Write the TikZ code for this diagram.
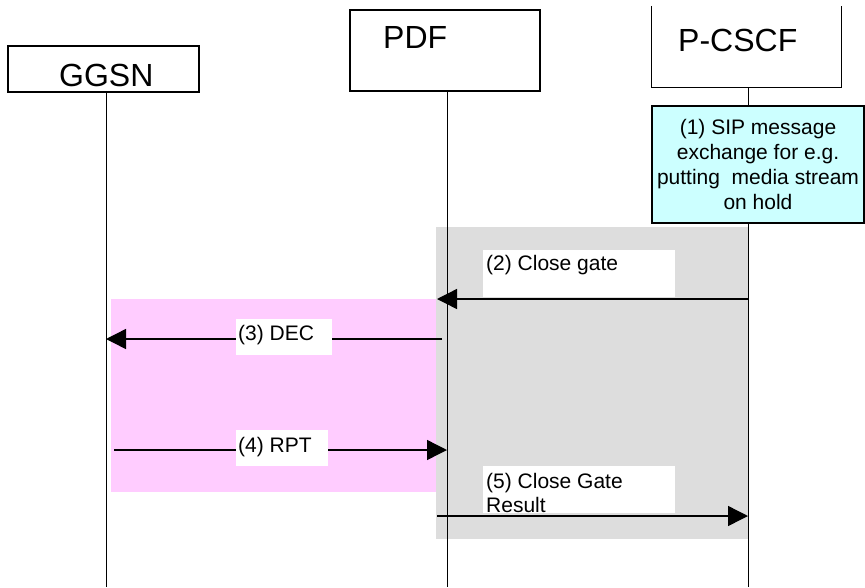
\documentclass[tikz,border=0pt]{standalone}
\usepackage{fontspec}
\setmainfont{Liberation Sans}
\usepackage{xcolor}
\usetikzlibrary{arrows.meta}
\definecolor{note-cyan}{HTML}{CCFFFF}
\definecolor{zone-grey}{HTML}{DDDDDD}
\definecolor{zone-pink}{HTML}{FFCCFF}
\tikzset{
    entity-box/.style = {draw, line width=1.3pt, rectangle, inner sep=0pt},
    entity-title/.style = {inner sep=0pt, anchor=base west, font=\fontsize{32}{38}\selectfont},
    life-line/.style = {line width=0.9pt},
    note-box/.style = {draw, fill=note-cyan, line width=1.3pt, rectangle, inner sep=0pt, align=center, font=\fontsize{21}{25}\selectfont},
    msg-arrow/.style = {line width=1.4pt, -{Triangle[length=20pt, width=20pt]}},
    msg-box/.style = {fill=white, rectangle, inner sep=0pt},
    msg-text/.style = {inner sep=0pt, align=left, font=\fontsize{21}{24}\selectfont},
}

\begin{document}
\begin{tikzpicture}[x=1pt, y=-1pt]
\useasboundingbox (0,0) rectangle (865,587);
\fill[zone-pink] (111,299) rectangle (436,492);
\fill[zone-grey] (436,227) rectangle (748,539);

\node[entity-box, minimum width=191pt, minimum height=46pt] (ggsn) at (103.5,69) {};
\node[entity-box, minimum width=190pt, minimum height=81pt] (pdf) at (445,50.5) {};
\node[rectangle, inner sep=0pt, minimum width=189pt, minimum height=81pt] (pcscf) at (746.5,46.5) {};
\draw[line width=1.3pt] (pcscf.north west) -- (pcscf.south west) -- (pcscf.south east) -- (pcscf.north east);
\node[entity-title] (ggsn-name) at (59,86) {GGSN};
\node[entity-title] (pdf-name) at (383,48) {PDF};
\node[entity-title] (pcscf-name) at (678,51.7) {P-CSCF};

\node[note-box, minimum width=212pt, minimum height=117pt] (sip) at (758,164.5) {(1) SIP message\\ exchange for e.g.\\ putting\ \ media stream\\ on hold};

\coordinate (ggsn-end) at (106,587);
\coordinate (pdf-end) at (447,587);
\coordinate (pcscf-end) at (748,587);
\draw[life-line] (ggsn.south -| ggsn-end) -- (ggsn-end);
\draw[life-line] (pdf.south -| pdf-end) -- (pdf-end);
\draw[life-line] (pcscf.south -| pcscf-end) -- (sip.north -| pcscf-end);
\draw[life-line] (sip.south -| pcscf-end) -- (pcscf-end);

\coordinate (pcscf-2) at (748,299);
\coordinate (pdf-2) at (437,299);
\coordinate (pdf-3) at (442,339);
\coordinate (ggsn-3) at (106,339);
\coordinate (ggsn-4) at (114,450);
\coordinate (pdf-4) at (447,450);
\coordinate (pdf-5) at (437,516);
\coordinate (pcscf-5) at (748,516);
\draw[msg-arrow] (pcscf-2) -- (pdf-2);
\draw[msg-arrow] (pdf-3) -- (ggsn-3);
\draw[msg-arrow] (ggsn-4) -- (pdf-4);
\draw[msg-arrow] (pdf-5) -- (pcscf-5);

\node[msg-box, minimum width=192pt, minimum height=47pt] (close-box) at (579,273.5) {};
\node[msg-box, minimum width=96pt, minimum height=36pt] (dec-box) at (284,337) {};
\node[msg-box, minimum width=92pt, minimum height=36pt] (rpt-box) at (282,448) {};
\node[msg-box, minimum width=192pt, minimum height=47pt] (result-box) at (579,489.5) {};
\node[msg-text, anchor=base west] (close-text) at (486,270.5) {(2) Close gate};
\node[msg-text, anchor=base west] (dec-text) at (238,340.5) {(3) DEC};
\node[msg-text, anchor=base west] (rpt-text) at (238,452.5) {(4) RPT};
\node[msg-text, anchor=north west] (result-text) at (486,473.2) {(5) Close Gate\\ Result};
\end{tikzpicture}
\end{document}
